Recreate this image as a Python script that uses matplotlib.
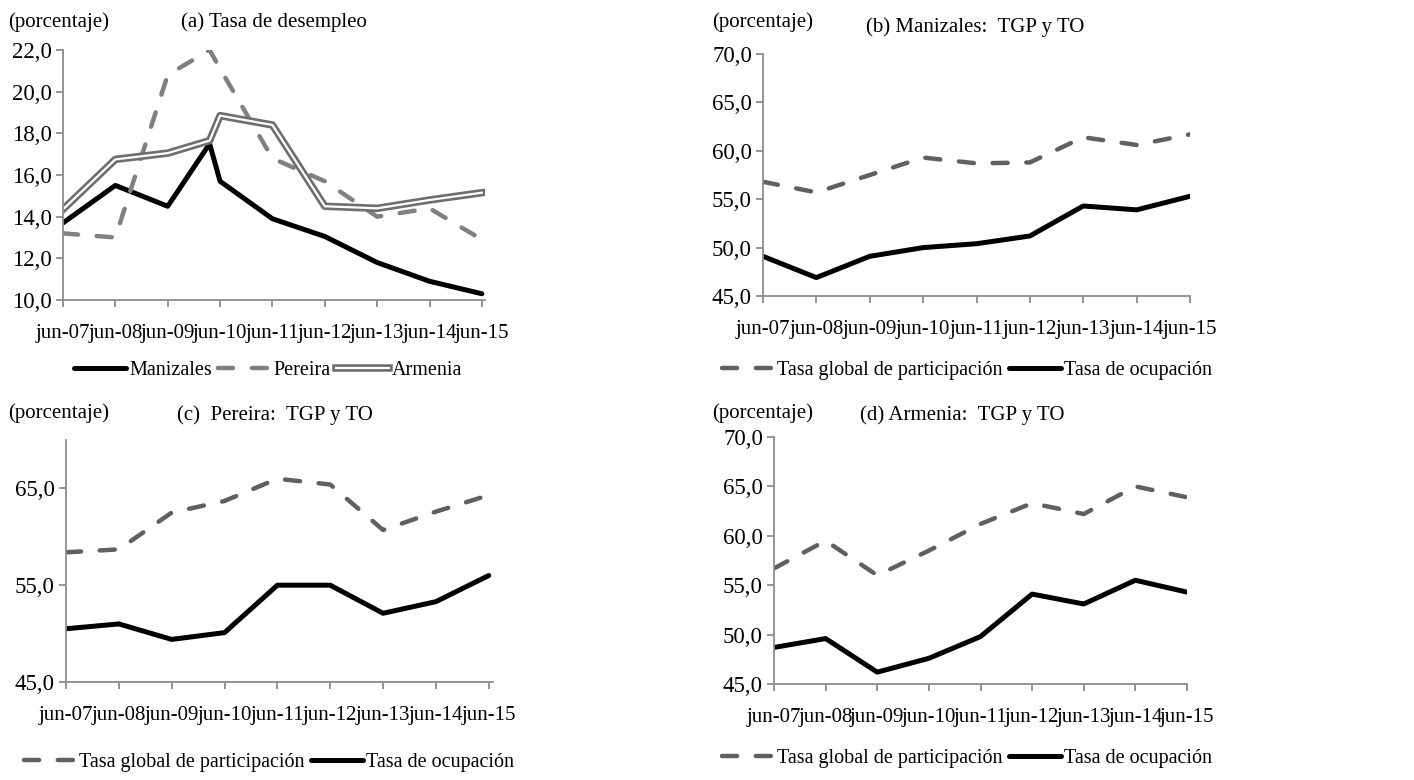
import matplotlib
matplotlib.use('Agg')
import matplotlib.pyplot as plt
import matplotlib.patheffects as pe

plt.rcParams['font.family'] = ['Liberation Serif', 'DejaVu Serif']

# --- datos ---------------------------------------------------------------
etiquetas = ['jun-07', 'jun-08', 'jun-09', 'jun-10', 'jun-11',
             'jun-12', 'jun-13', 'jun-14', 'jun-15']

# (a) tasa de desempleo (incluye un dato intermedio antes de jun-10)
t_a = [0, 1, 2, 2.8, 3, 4, 5, 6, 7, 8]
manizales = [13.7, 15.5, 14.5, 17.5, 15.7, 13.9, 13.05, 11.8, 10.9, 10.3]
pereira = [13.2, 13.0, 20.8, 22.0, 21.1, 16.8, 15.7, 14.0, 14.4, 12.9]
armenia = [14.35, 16.75, 17.05, 17.65, 18.85, 18.4, 14.5, 14.4, 14.8, 15.15]

t = list(range(9))
# (b) Manizales
man_tgp = [56.8, 55.7, 57.5, 59.3, 58.7, 58.8, 61.4, 60.6, 61.7]
man_to = [49.1, 46.9, 49.1, 50.0, 50.4, 51.2, 54.3, 53.9, 55.3]
# (c) Pereira
per_tgp = [58.4, 58.7, 62.5, 63.7, 66.0, 65.4, 60.7, 62.6, 64.3]
per_to = [50.5, 51.0, 49.4, 50.1, 55.0, 55.0, 52.1, 53.3, 56.0]
# (d) Armenia
arm_tgp = [56.7, 59.5, 56.0, 58.5, 61.2, 63.3, 62.2, 65.0, 63.9]
arm_to = [48.7, 49.6, 46.2, 47.6, 49.8, 54.1, 53.1, 55.5, 54.3]

W, H = 1414, 780
fig = plt.figure(figsize=(W / 100, H / 100), dpi=100)


def px_axes(x0, y0, x1, y1):
    return fig.add_axes([x0 / W, 1 - y1 / H, (x1 - x0) / W, (y1 - y0) / H])


def estilo(ax, ymin, ymax, paso, xmax=8):
    ax.set_xlim(0, xmax)
    ax.set_ylim(ymin, ymax)
    ax.set_xticks(t)
    ax.set_xticklabels(etiquetas)
    ax.set_yticks([v for v in range(ymin, ymax + 1, paso)])
    ax.set_yticklabels([f'{v:.1f}'.replace('.', ',') for v in range(ymin, ymax + 1, paso)])
    for s in ['top', 'right']:
        ax.spines[s].set_visible(False)
    for s in ['left', 'bottom']:
        ax.spines[s].set_color('#8c8c8c')
        ax.spines[s].set_linewidth(1.3)
    ax.tick_params(axis='both', direction='out', color='#8c8c8c', width=1.3, length=5)
    ax.tick_params(axis='x', pad=12, labelsize=15)
    ax.tick_params(axis='y', pad=3, labelsize=16.5)
    ax.patch.set_visible(False)


negro = dict(color='black', lw=3.6, solid_capstyle='round', solid_joinstyle='round')
gris = dict(lw=3.2, dashes=(3.4, 4.2), dash_capstyle='round', dash_joinstyle='round')
leg = dict(frameon=False, fontsize=14.5, handlelength=2.6,
           handletextpad=0.15, columnspacing=0.3)

# (a)
ax1 = px_axes(63, 50, 485, 300)
l1, = ax1.plot(t_a, manizales, label='Manizales', **negro)
l2, = ax1.plot(t_a, pereira, color='#808080', label='Pereira', **gris)
l3, = ax1.plot(t_a, armenia, color='white', lw=1.6, label='Armenia',
               path_effects=[pe.Stroke(linewidth=5.4, foreground='#6e6e6e'), pe.Normal()])
estilo(ax1, 10, 22, 2, xmax=8.06)
fig.legend(handles=[l1, l2, l3], loc='center', bbox_to_anchor=(268 / W, 1 - 370 / H),
           ncol=3, **leg)

# (b)
ax2 = px_axes(763, 54, 1190, 296)
b1, = ax2.plot(t, man_tgp, color='#606060', label='Tasa global de participación', **gris)
b2, = ax2.plot(t, man_to, label='Tasa de ocupación', **negro)
estilo(ax2, 45, 70, 5)
fig.legend(handles=[b1, b2], loc='center', bbox_to_anchor=(967 / W, 1 - 370 / H),
           ncol=2, **leg)

# (c)
ax3 = px_axes(66, 440, 493, 682)
c1, = ax3.plot(t, per_tgp, color='#606060', label='Tasa global de participación', **gris)
c2, = ax3.plot(t, per_to, label='Tasa de ocupación', **negro)
estilo(ax3, 45, 65, 10, xmax=8.08)
ax3.set_ylim(45, 70)
fig.legend(handles=[c1, c2], loc='center', bbox_to_anchor=(269 / W, 1 - 762 / H),
           ncol=2, **leg)

# (d)
ax4 = px_axes(774, 437, 1187, 684)
d1, = ax4.plot(t, arm_tgp, color='#606060', label='Tasa global de participación', **gris)
d2, = ax4.plot(t, arm_to, label='Tasa de ocupación', **negro)
estilo(ax4, 45, 70, 5)
fig.legend(handles=[d1, d2], loc='center', bbox_to_anchor=(967 / W, 1 - 758 / H),
           ncol=2, **leg)

# textos
for x, y in [(8, 22), (712, 22), (8, 413), (712, 413)]:
    fig.text(x / W, 1 - y / H, '(porcentaje)', fontsize=15, ha='left', va='center')
for x, y, s in [(274, 22, '(a) Tasa de desempleo'),
                (975, 27, '(b) Manizales:  TGP y TO'),
                (275, 415, '(c)  Pereira:  TGP y TO'),
                (962, 415, '(d) Armenia:  TGP y TO')]:
    fig.text(x / W, 1 - y / H, s, fontsize=15, ha='center', va='center')

fig.savefig('out.png', dpi=100)
